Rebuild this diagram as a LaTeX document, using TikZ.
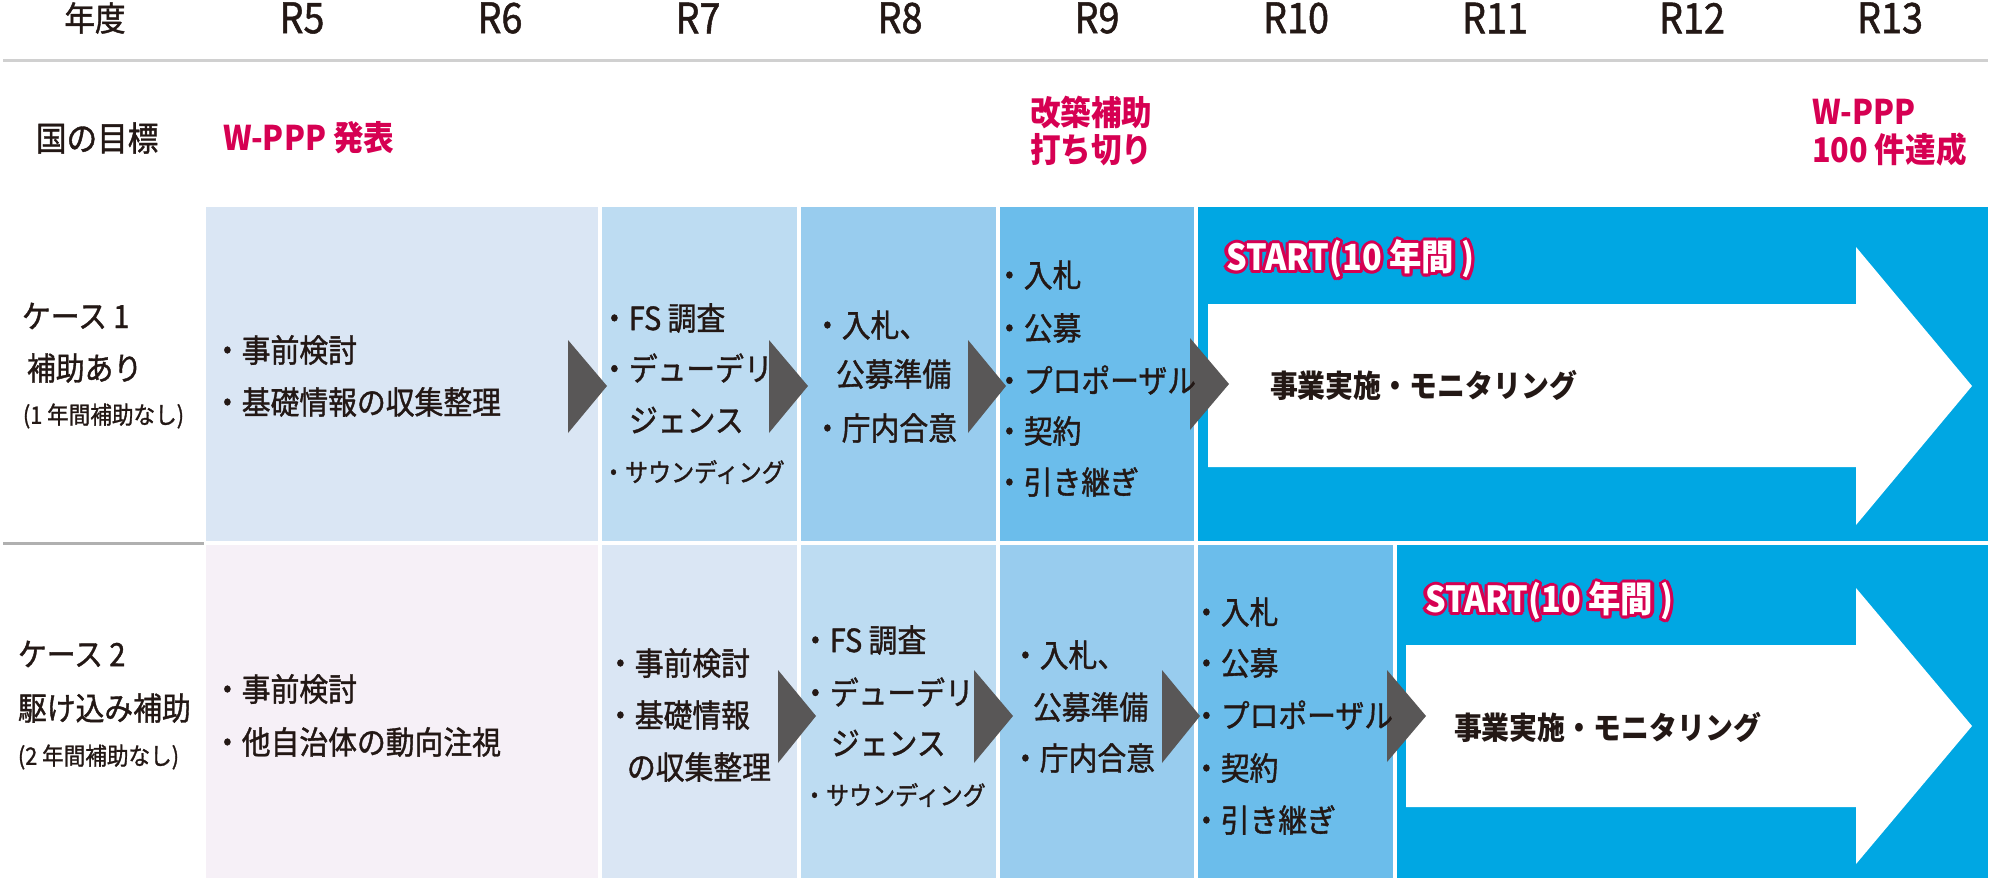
\documentclass[tikz,border=0pt]{standalone}
\usepackage{fontspec}
\setmainfont{Noto Sans CJK JP}[FakeStretch=0.9]
\newfontfamily\medfont{Noto Sans CJK JP}[FakeStretch=0.9, FakeBold=1.2]
\usetikzlibrary{calc}
\definecolor{ink}{RGB}{35,24,21}
\definecolor{crim}{RGB}{214,0,82}
\definecolor{trig}{RGB}{89,87,87}
\definecolor{cya}{RGB}{0,167,227}
\definecolor{lvD}{RGB}{107,189,235}
\definecolor{lvC}{RGB}{152,204,238}
\definecolor{lvB}{RGB}{189,220,242}
\definecolor{lvA}{RGB}{218,230,244}
\definecolor{lav}{RGB}{246,240,247}
\definecolor{hline}{RGB}{208,208,208}
\definecolor{sline}{RGB}{176,176,176}
\begin{document}
\begin{tikzpicture}[x=0.5pt,y=-0.5pt,
  every node/.style={inner sep=0pt, outer sep=0pt},
  txt/.style={anchor=west, text=ink, font=\medfont\fontsize{16pt}{18pt}\selectfont},
  smalltxt/.style={anchor=west, text=ink, font=\medfont\fontsize{12.8pt}{14pt}\selectfont},
  lbl/.style={anchor=west, text=ink, font=\medfont\fontsize{16pt}{18pt}\selectfont},
  sublbl/.style={anchor=west, text=ink, font=\medfont\fontsize{12pt}{14pt}\selectfont},
  hdr/.style={anchor=center, text=ink, font=\medfont\fontsize{17pt}{19pt}\selectfont},
  rowhdr/.style={anchor=west, text=ink, font=\medfont\fontsize{17pt}{19pt}\selectfont},
  yr/.style={anchor=center, text=ink, font=\medfont\fontsize{21pt}{23pt}\selectfont},
  goal/.style={anchor=west, text=crim, font=\fontsize{17pt}{19pt}\selectfont\bfseries},
  startlbl/.style={anchor=west, font=\fontsize{18pt}{20pt}\selectfont\bfseries},
  mainlbl/.style={anchor=west, text=ink, font=\fontsize{15.5pt}{17pt}\selectfont\bfseries},
  tribox/.style={fill=trig},
  bigarrow/.style={fill=white},
]
\useasboundingbox (0,0) rectangle (1991,884);
% header line
\draw[hline, line width=1.5pt] (3,60) -- (1988,60);
% row separator on the left
\draw[sline, line width=1.5pt] (3,543) -- (204,543);
% row 1 boxes
\fill[lvA] (206,207) rectangle (598,541);
\fill[lvB] (602,207) rectangle (797,541);
\fill[lvC] (801,207) rectangle (996,541);
\fill[lvD] (1000,207) rectangle (1194,541);
\fill[cya] (1198,207) rectangle (1988,541);
% row 2 boxes
\fill[lav] (206,545) rectangle (598,878);
\fill[lvA] (602,545) rectangle (797,878);
\fill[lvB] (801,545) rectangle (996,878);
\fill[lvC] (1000,545) rectangle (1194,878);
\fill[lvD] (1198,545) rectangle (1393,878);
\fill[cya] (1397,545) rectangle (1988,878);
% big arrows
\fill[bigarrow] (1208,304) -- (1856,304) -- (1856,247) -- (1972,386) -- (1856,525) -- (1856,467) -- (1208,467) -- cycle;
\fill[bigarrow] (1406,645) -- (1856,645) -- (1856,588) -- (1972,726) -- (1856,864) -- (1856,807) -- (1406,807) -- cycle;
% triangles row 1
\fill[tribox] (568,340) -- (607,386) -- (568,433) -- cycle;
\fill[tribox] (769,340) -- (808,386) -- (769,433) -- cycle;
\fill[tribox] (968,340) -- (1006,386) -- (968,433) -- cycle;
\fill[tribox] (1190,338) -- (1229,384) -- (1190,430) -- cycle;
% triangles row 2
\fill[tribox] (778,670) -- (816,716) -- (778,763) -- cycle;
\fill[tribox] (974,670) -- (1013,716) -- (974,763) -- cycle;
\fill[tribox] (1162,670) -- (1200,716) -- (1162,763) -- cycle;
\fill[tribox] (1387,670) -- (1426,716) -- (1387,762) -- cycle;
% header
\node[hdr] (nendo) at (95,18) {年度};
\node[yr] (r5) at (302,18) {R5};
\node[yr] (r6) at (500,18) {R6};
\node[yr] (r7) at (698,18) {R7};
\node[yr] (r8) at (900,18) {R8};
\node[yr] (r9) at (1097,18) {R9};
\node[yr] (r10) at (1296,18) {R10};
\node[yr] (r11) at (1495,18) {R11};
\node[yr] (r12) at (1692,18) {R12};
\node[yr] (r13) at (1890,18) {R13};
% goals
\node[rowhdr] (kuni) at (36,138) {国の目標};
\node[goal] (wppp) at (223,138) {W-PPP 発表};
\node[goal] (kai1) at (1030,112) {改築補助};
\node[goal] (kai2) at (1030,150) {打ち切り};
\node[goal] (tgt1) at (1812,112) {W-PPP};
\node[goal] (tgt2) at (1812,150) {100 件達成};
% left labels
\node[lbl] (c1a) at (22,316) {ケース 1};
\node[lbl] (c1b) at (27,368) {補助あり};
\node[sublbl] (c1c) at (23,416) {(1 年間補助なし)};
\node[lbl] (c2a) at (18,654) {ケース 2};
\node[lbl] (c2b) at (18,708) {駆け込み補助};
\node[sublbl] (c2c) at (18,757) {(2 年間補助なし)};
% row 1 texts
\node[txt] (a1) at (213,350) {・事前検討};
\node[txt] (a2) at (213,402) {・基礎情報の収集整理};
\node[txt] (b1) at (600,318) {・FS 調査};
\node[txt] (b2) at (600,368) {・デューデリ};
\node[txt] (b3) at (629,420) {ジェンス};
\node[smalltxt] (b4) at (602,472) {・サウンディング};
\node[txt] (c1) at (813,325) {・入札、};
\node[txt] (c2) at (836,374) {公募準備};
\node[txt] (c3) at (813,428) {・庁内合意};
\node[txt] (d1) at (995,275) {・入札};
\node[txt] (d2) at (995,328) {・公募};
\node[txt] (d3) at (995,380) {・プロポーザル};
\node[txt] (d4) at (995,431) {・契約};
\node[txt] (d5) at (995,482) {・引き継ぎ};
\node[mainlbl] (m1) at (1270,385) {事業実施・モニタリング};
\foreach \a in {0,30,...,330}
  \node[startlbl, text=crim] (s1o\a) at ($(1226,259)+(\a:1.6pt)$) {START(10 年間 )};
\node[startlbl, text=white] (s1) at (1226,259) {START(10 年間 )};
% row 2 texts
\node[txt] (e1) at (213,689) {・事前検討};
\node[txt] (e2) at (213,742) {・他自治体の動向注視};
\node[txt] (f1) at (606,663) {・事前検討};
\node[txt] (f2) at (606,715) {・基礎情報};
\node[txt] (f3) at (627,767) {の収集整理};
\node[txt] (g1) at (801,640) {・FS 調査};
\node[txt] (g2) at (801,692) {・デューデリ};
\node[txt] (g3) at (831,743) {ジェンス};
\node[smalltxt] (g4) at (803,795) {・サウンディング};
\node[txt] (h1) at (1011,655) {・入札、};
\node[txt] (h2) at (1033,707) {公募準備};
\node[txt] (h3) at (1011,758) {・庁内合意};
\node[txt] (i1) at (1192,612) {・入札};
\node[txt] (i2) at (1192,663) {・公募};
\node[txt] (i3) at (1192,715) {・プロポーザル};
\node[txt] (i4) at (1192,768) {・契約};
\node[txt] (i5) at (1192,820) {・引き継ぎ};
\node[mainlbl] (m2) at (1454,727) {事業実施・モニタリング};
\foreach \a in {0,30,...,330}
  \node[startlbl, text=crim] (s2o\a) at ($(1425,601)+(\a:1.6pt)$) {START(10 年間 )};
\node[startlbl, text=white] (s2) at (1425,601) {START(10 年間 )};
\end{tikzpicture}
\end{document}
